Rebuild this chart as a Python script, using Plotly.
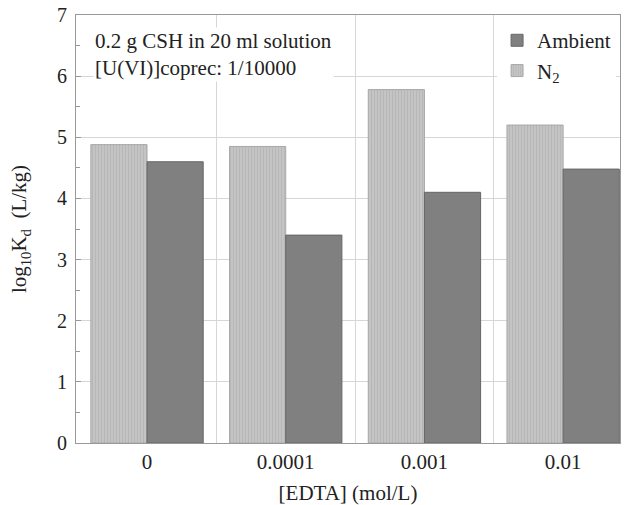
import plotly.graph_objects as go

categories = ["0", "0.0001", "0.001", "0.01"]
ambient = [4.60, 3.40, 4.10, 4.48]
n2 = [4.88, 4.85, 5.78, 5.20]

xpos = list(range(len(categories)))
FONT = "Liberation Serif, Times New Roman, serif"

fig = go.Figure()
fig.add_trace(go.Bar(
    x=xpos, y=n2, name="N<sub>2</sub>",
    marker=dict(color="#c2c2c2", line=dict(color="#a8a8a8", width=1),
                pattern=dict(shape="|", fgcolor="#a9a9a9", bgcolor="#c4c4c4",
                             size=3, solidity=0.35)),
    legendrank=2,
))
fig.add_trace(go.Bar(
    x=xpos, y=ambient, name="Ambient",
    marker=dict(color="#808080", line=dict(color="#666666", width=1)),
    legendrank=1,
))

fig.update_layout(
    width=625, height=505,
    margin=dict(l=76, r=5, t=15, b=62),
    barmode="group", bargap=0.19, bargroupgap=0,
    plot_bgcolor="white", paper_bgcolor="white",
    font=dict(family=FONT, size=21, color="#222"),
    legend=dict(x=0.774, y=0.988, xanchor="left", yanchor="top",
                bgcolor="white", font=dict(size=21, family=FONT),
                traceorder="normal"),
    annotations=[dict(
        text="0.2 g CSH in 20 ml solution<br>[U(VI)]coprec: 1/10000",
        xref="paper", yref="paper", x=0.031, y=0.972,
        xanchor="left", yanchor="top", align="left", showarrow=False,
        bgcolor="white", font=dict(size=21, family=FONT, color="#222"),
    )],
)

fig.update_xaxes(
    range=[-0.512, 3.41], tickvals=xpos, ticktext=categories,
    showgrid=False, showline=True, linecolor="#999", linewidth=1, mirror=True,
    ticks="", tickfont=dict(size=21), automargin=False,
    minor=dict(tickvals=[0.5, 1.5, 2.5], showgrid=True, gridcolor="#d6d6d6",
               gridwidth=1, ticks=""),
    title=dict(text="[EDTA] (mol/L)", font=dict(size=21)),
    zeroline=False,
)
fig.update_yaxes(
    range=[0, 7], dtick=1, showgrid=True, gridcolor="#d6d6d6", gridwidth=1,
    showline=True, linecolor="#999", linewidth=1, mirror=True,
    ticks="inside", ticklen=5, tickcolor="#999", automargin=False,
    minor=dict(dtick=0.5, ticks="inside", ticklen=4, tickcolor="#999", showgrid=False),
    tickfont=dict(size=20), ticklabelstandoff=4, ticklabeloverflow="allow",
    title=dict(text="log<sub>10</sub>K<sub>d</sub>&nbsp;&nbsp;(L/kg)", font=dict(size=21),
               standoff=24),
    zeroline=False,
)

# remove the default 8px page margin so the figure fills the window exactly
fig.write_html("out.html", config={"displayModeBar": False},
               post_script="document.body.style.margin='0';")
